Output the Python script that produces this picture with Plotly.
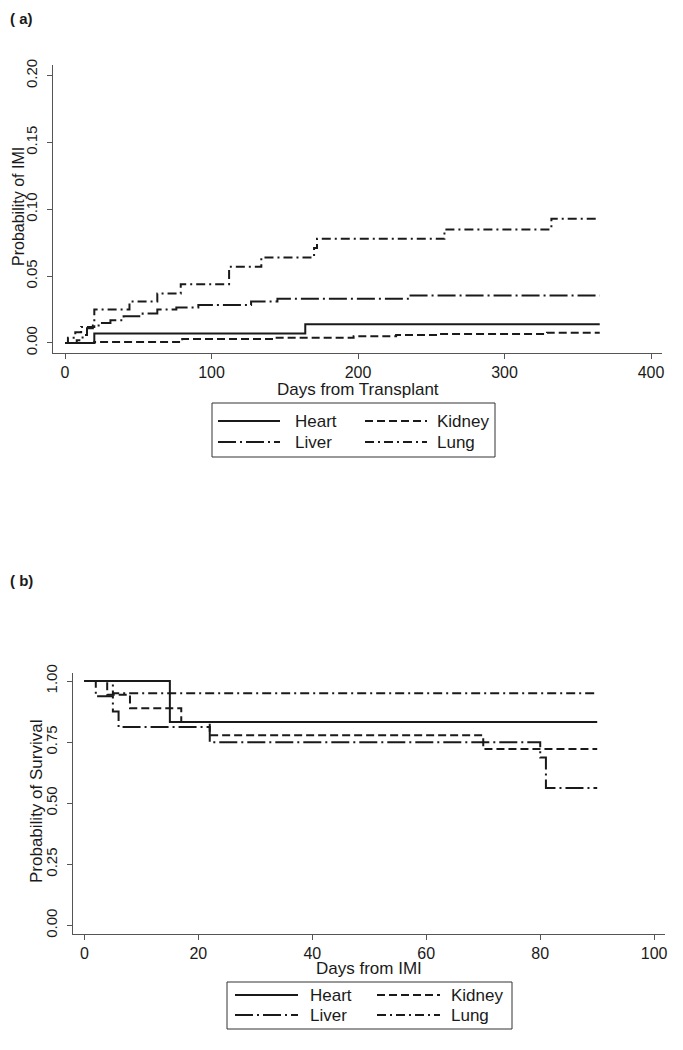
import plotly.graph_objects as go

# ---- data ----
# (a) cumulative probability of IMI, days from transplant
heart_a_x = [0, 20, 164, 365]
heart_a_y = [0, 0.007, 0.014, 0.014]
kidney_a_x = [0, 20, 80, 142, 197, 226, 256, 329, 365]
kidney_a_y = [0, 0.0007, 0.003, 0.004, 0.005, 0.006, 0.0067, 0.0077, 0.0077]
liver_a_x = [0, 8, 12, 15, 19, 24, 31, 40, 53, 63, 76, 91, 127, 145, 234, 365]
liver_a_y = [0, 0.002, 0.006, 0.011, 0.013, 0.015, 0.017, 0.020, 0.022, 0.025,
             0.0265, 0.0285, 0.031, 0.033, 0.0355, 0.0355]
lung_a_x = [0, 2, 7, 11, 20, 44, 63, 79, 112, 134, 170, 172, 259, 332, 365]
lung_a_y = [0, 0.004, 0.008, 0.012, 0.025, 0.031, 0.037, 0.044, 0.057, 0.064,
            0.071, 0.078, 0.085, 0.093, 0.093]

# (b) probability of survival, days from IMI
heart_b_x = [0, 15, 90]
heart_b_y = [1, 0.833, 0.833]
kidney_b_x = [0, 4, 8, 17, 22, 70, 90]
kidney_b_y = [1, 0.944, 0.889, 0.833, 0.778, 0.722, 0.722]
liver_b_x = [0, 2, 5, 6, 22, 80, 81, 90]
liver_b_y = [1, 0.9375, 0.875, 0.8125, 0.75, 0.6875, 0.5625, 0.5625]
lung_b_x = [0, 5, 90]
lung_b_y = [1, 0.95, 0.95]

organs = ["Heart", "Kidney", "Liver", "Lung"]
xticks_a = [0, 100, 200, 300, 400]
yticks_a = [0, 0.05, 0.10, 0.15, 0.20]
xticks_b = [0, 20, 40, 60, 80, 100]
yticks_b = [0, 0.25, 0.50, 0.75, 1.00]

# ---- styling ----
# the page body has an 8px margin, so the figure is 8px smaller each way
OFF = 8
W, H = 683 - OFF, 1050 - OFF
FONT = "Liberation Sans, Arial, sans-serif"
INK = "#1a1a1a"
AXC = "#555555"
dashes = {"Heart": "solid", "Kidney": "8px,4px",
          "Liver": "18px,4px,2px,4px", "Lung": "9px,4px,2px,4px"}


def px(x, y):
    # page pixel -> paper fraction
    return (x - OFF) / W, 1 - (y - OFF) / H


def xdom(x0, x1):
    return [px(x0, 0)[0], px(x1, 0)[0]]


def ydom(top, bottom):
    return [px(0, bottom)[1], px(0, top)[1]]


fig = go.Figure()

panel_a = [(heart_a_x, heart_a_y), (kidney_a_x, kidney_a_y),
           (liver_a_x, liver_a_y), (lung_a_x, lung_a_y)]
panel_b = [(heart_b_x, heart_b_y), (kidney_b_x, kidney_b_y),
           (liver_b_x, liver_b_y), (lung_b_x, lung_b_y)]

for name, (xs, ys) in zip(organs, panel_a):
    fig.add_trace(go.Scatter(x=xs, y=ys, mode="lines", line_shape="hv", name=name,
                             line=dict(color=INK, width=2, dash=dashes[name]),
                             xaxis="x", yaxis="y", showlegend=False))
for name, (xs, ys) in zip(organs, panel_b):
    fig.add_trace(go.Scatter(x=xs, y=ys, mode="lines", line_shape="hv", name=name,
                             line=dict(color=INK, width=2, dash=dashes[name]),
                             xaxis="x2", yaxis="y2", showlegend=False))

axis_common = dict(showline=True, linecolor=AXC, linewidth=1, ticks="outside",
                   ticklen=5, tickcolor=AXC, showgrid=False, zeroline=False,
                   automargin=False,
                   tickfont=dict(family=FONT, size=16, color=INK))

fig.update_layout(
    template="none",
    width=W, height=H,
    margin=dict(l=0, r=0, t=0, b=0, autoexpand=False),
    paper_bgcolor="white", plot_bgcolor="white",
    font=dict(family=FONT, color=INK),
    xaxis=dict(axis_common, domain=xdom(53, 662), range=[-8.2, 407.5],
               tickvals=xticks_a, anchor="y"),
    yaxis=dict(axis_common, domain=ydom(65, 353), range=[-0.0075, 0.208],
               tickvals=yticks_a, tickformat=".2f", tickangle=-90, anchor="x",
               ticklabelstandoff=4, tickfont=dict(family=FONT, size=15, color=INK)),
    xaxis2=dict(axis_common, domain=xdom(73, 665), range=[-2.0, 101.9],
                tickvals=xticks_b, anchor="y2"),
    yaxis2=dict(axis_common, domain=ydom(673, 934), range=[-0.035, 1.033],
                tickvals=yticks_b, tickformat=".2f", tickangle=-90, anchor="x2",
                ticklabelstandoff=4, tickfont=dict(family=FONT, size=15, color=INK)),
)

annotations = []
shapes = []


def text(x, y, s, size=17, angle=0, bold=False, xanchor="center"):
    xx, yy = px(x, y)
    annotations.append(dict(x=xx, y=yy, xref="paper", yref="paper", text=s,
                            showarrow=False, textangle=angle, xanchor=xanchor,
                            yanchor="middle",
                            font=dict(family=FONT, size=size, color=INK,
                                      weight="bold" if bold else "normal")))


# panel labels
text(OFF, 18, "( a)", size=15, bold=True, xanchor="left")
text(OFF, 580, "( b)", size=15, bold=True, xanchor="left")

# axis titles
text(358, 389, "Days from Transplant")
text(19, 207, "Probability of IMI", size=16, angle=-90)
text(369, 968, "Days from IMI")
text(36, 802, "Probability of Survival", angle=-90)


def legend(box, rows, cols):
    x0, y0, x1, y1 = box
    a, b = px(x0, y0)
    c, d = px(x1, y1)
    shapes.append(dict(type="rect", xref="paper", yref="paper", x0=a, y0=d, x1=c, y1=b,
                       line=dict(color="#333333", width=1)))
    k = 0
    for ry in rows:
        for (sx0, sx1, tx) in cols:
            name = organs[k]
            p0 = px(sx0, ry)
            p1 = px(sx1, ry)
            shapes.append(dict(type="line", xref="paper", yref="paper",
                               x0=p0[0], y0=p0[1], x1=p1[0], y1=p1[1],
                               line=dict(color=INK, width=2, dash=dashes[name])))
            text(tx, ry, name, size=17, xanchor="left")
            k += 1


legend((212, 403, 495, 457), [421, 442], [(218, 280, 293), (365, 427, 435)])
legend((227, 982, 512, 1029), [995, 1015], [(235, 298, 308), (377, 440, 449)])

fig.update_layout(annotations=annotations, shapes=shapes)

fig.write_html("out.html")
